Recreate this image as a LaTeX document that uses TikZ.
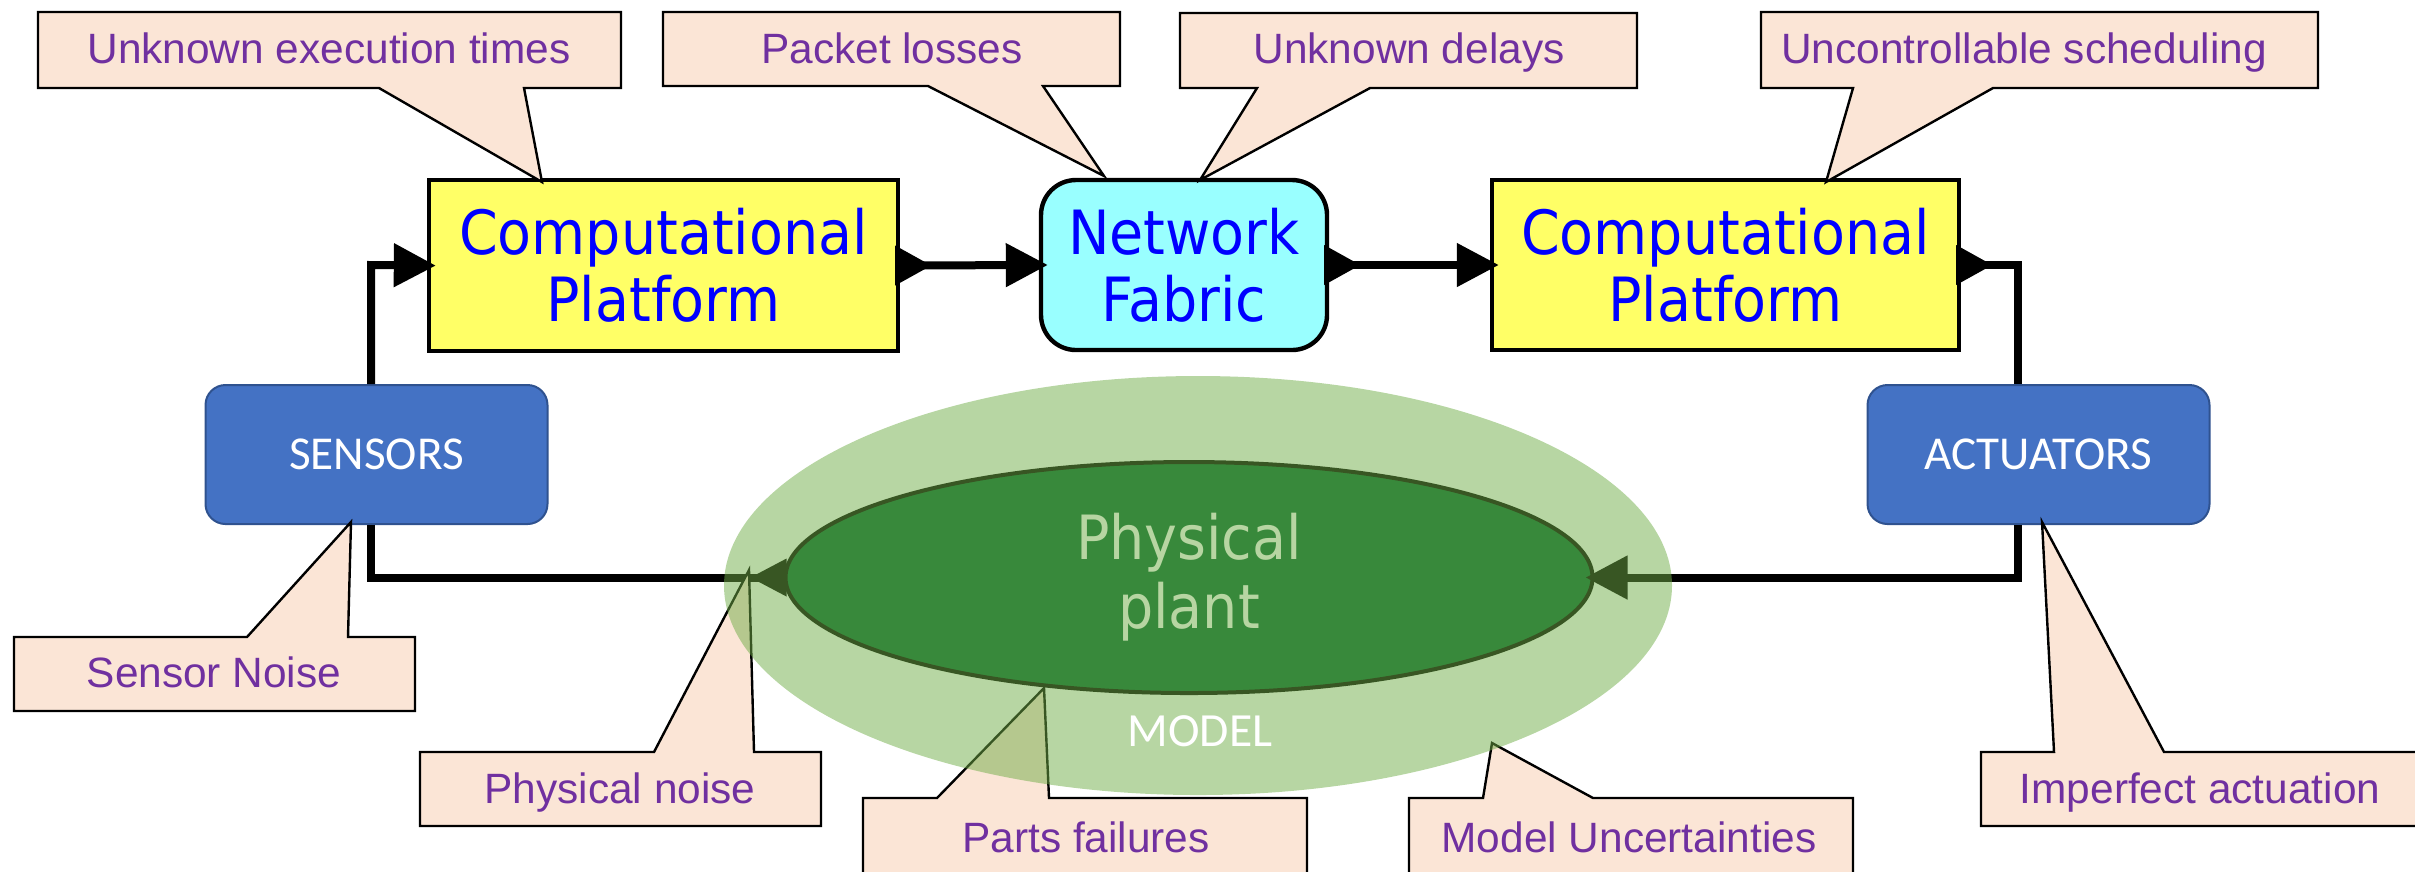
\documentclass[tikz,border=0pt]{standalone}
\usepackage{fontspec}
\setmainfont{Liberation Sans}
\newfontfamily\ptfont[FakeStretch=0.91]{DejaVu Sans}
\newfontfamily\calfont{Carlito}
\usetikzlibrary{arrows.meta,shapes.geometric,calc}
\definecolor{cpyellow}{HTML}{FFFF66}
\definecolor{nfcyan}{HTML}{99FFFF}
\definecolor{ptblue}{HTML}{0000FF}
\definecolor{boxblue}{HTML}{4472C4}
\definecolor{boxedge}{HTML}{2F528F}
\definecolor{peach}{HTML}{FBE5D6}
\definecolor{purp}{HTML}{7030A0}
\definecolor{ovgreen}{HTML}{70AD47}
\definecolor{plantgreen}{RGB}{0,102,48}
\begin{document}
\begin{tikzpicture}[x=0.25pt,y=-0.25pt,
  cpbox/.style={draw=black, line width=1.1pt, fill=cpyellow, minimum width=117.25pt, minimum height=42.75pt, inner sep=0pt, align=center, text=ptblue, font=\ptfont\fontsize{15.25}{16.75}\selectfont},
  nfbox/.style={cpbox, fill=nfcyan, rounded corners=8.75pt, minimum width=71.5pt, minimum height=42.5pt},
  iobox/.style={draw=boxedge, line width=0.5pt, fill=boxblue, rounded corners=5pt, minimum width=85.5pt, minimum height=34.75pt, inner sep=0pt, text=white, font=\calfont\fontsize{11.8}{14}\selectfont},
  wire/.style={line width=2pt, draw=black},
  arrowto/.style={-{Triangle[length=10.5pt,width=10.5pt]}, shorten >=-2.25pt},
  note/.style={draw=black, line width=0.6pt, fill=peach},
  notetext/.style={anchor=base, text=purp, inner sep=0pt, font=\fontsize{10.6}{12.7}\selectfont},
]
\useasboundingbox (0,0) rectangle (2415,871);
\clip (0,0) rectangle (2415,871);

% plant
\node[ellipse, draw=black, line width=1pt, fill=plantgreen, minimum width=201.75pt, minimum height=57.75pt, inner sep=0pt, align=center, text=white, font=\ptfont\fontsize{15.25}{17.25}\selectfont] (plant) at (1189,577.5) {Physical\\plant};

% blocks
\node[cpbox] (cp1) at (663.5,265.5) {Computational\\Platform};
\node[nfbox] (nf) at (1184,265) {Network\\Fabric};
\node[cpbox, minimum width=116.75pt, minimum height=42.5pt] (cp2) at (1725.5,265) {Computational\\Platform};
\node[iobox] (sensors) at (376.5,454.5) {SENSORS};
\node[iobox] (act) at (2038.5,454.5) {ACTUATORS};

% connectors
\coordinate (sx) at (371,265);
\coordinate (abend) at (2018,265);
\draw[wire,arrowto] (sx |- sensors.north) -- (sx) -- (cp1.west);
\draw[wire,arrowto] (cp1.east) -- (nf.west);
\draw[wire,arrowto] (nf.east) -- (cp2.west);
\draw[wire] (cp2.east) -- (abend) -- (abend |- act.north);
\draw[wire,arrowto] (abend |- act.south) -- (abend |- plant.east) -- (plant.east);
\draw[wire] (plant.west) -- (plant.west -| sx) -- (sx |- sensors.south);

% output ports
\fill ($(cp1.east)+(-5,-20)$) -- ($(cp1.east)+(31,0)$) -- ($(cp1.east)+(-5,20)$) -- cycle;
\fill ($(nf.east)+(-5,-20)$) -- ($(nf.east)+(31,0)$) -- ($(nf.east)+(-5,20)$) -- cycle;
\fill ($(cp2.east)+(-5,-20)$) -- ($(cp2.east)+(31,0)$) -- ($(cp2.east)+(-5,20)$) -- cycle;
\fill ($(plant.west)+(3,-19)$) -- ($(plant.west)+(-33,0)$) -- ($(plant.west)+(3,19)$) -- cycle;

% callouts
\path[note] (38,12) -- (621,12) -- (621,88) -- (524,88) -- (542,182) -- (379,88) -- (38,88) -- cycle;
\path[note] (663,12) -- (1120,12) -- (1120,86) -- (1043,86) -- (1104,176) -- (928,86) -- (663,86) -- cycle;
\path[note] (1180,13) -- (1637,13) -- (1637,88) -- (1370,88) -- (1200,180) -- (1257,88) -- (1180,88) -- cycle;
\path[note] (1761,12) -- (2318,12) -- (2318,88) -- (1993,88) -- (1826,182) -- (1853,88) -- (1761,88) -- cycle;
\path[note] (14,711) -- (14,637) -- (247,637) -- (351,522) -- (348,637) -- (415,637) -- (415,711) -- cycle;
\path[note] (420,826) -- (420,752) -- (654,752) -- (749,570) -- (754,752) -- (821,752) -- (821,826) -- cycle;
\path[note] (863,874) -- (863,798) -- (937,798) -- (1044,688) -- (1049,798) -- (1307,798) -- (1307,874) -- cycle;
\path[note] (1409,874) -- (1409,798) -- (1483,798) -- (1492,743) -- (1593,798) -- (1853,798) -- (1853,874) -- cycle;
\path[note] (1981,826) -- (1981,752) -- (2054,752) -- (2042,522) -- (2164,752) -- (2425,752) -- (2425,826) -- cycle;

\node[notetext] (n1) at (329,63) {Unknown execution times};
\node[notetext] (n2) at (892,63) {Packet losses};
\node[notetext] (n3) at (1409,63) {Unknown delays};
\node[notetext] (n4) at (2024,63) {Uncontrollable scheduling};
\node[notetext] (n5) at (214,687) {Sensor Noise};
\node[notetext] (n6) at (620,803) {Physical noise};
\node[notetext] (n7) at (1086,852) {Parts failures};
\node[notetext] (n8) at (1629,852) {Model Uncertainties};
\node[notetext] (n9) at (2200,803) {Imperfect actuation};

% model overlay
\node[ellipse, fill=ovgreen, fill opacity=0.5, minimum width=237pt, minimum height=104.75pt, inner sep=0pt] (model) at (1198,585.5) {};
\node[text=white, inner sep=0pt, font=\calfont\fontsize{11.9}{14}\selectfont] (modeltext) at (1200,731) {MODEL};
\end{tikzpicture}
\end{document}
